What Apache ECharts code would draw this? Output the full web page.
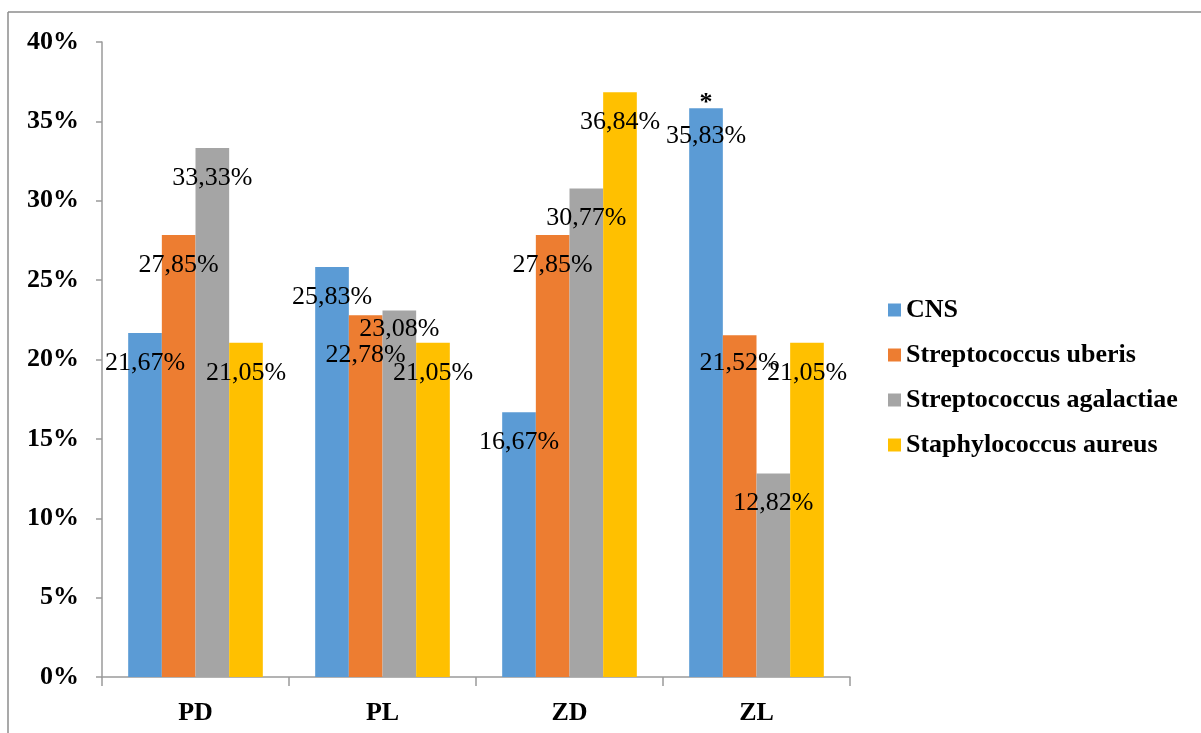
<!DOCTYPE html>
<html>
<head>
<meta charset="utf-8">
<script src="https://cdn.jsdelivr.net/npm/echarts@6/dist/echarts.min.js"></script>
<style>
html,body{margin:0;padding:0;background:#fff;}
#chart{width:1201px;height:733px;}
</style>
</head>
<body>
<div id="chart"></div>
<script>
const categories = ['PD', 'PL', 'ZD', 'ZL'];
const seriesNames = ['CNS', 'Streptococcus uberis', 'Streptococcus agalactiae', 'Staphylococcus aureus'];
const cns = [21.67, 25.83, 16.67, 35.83];
const uberis = [27.85, 22.78, 27.85, 21.52];
const agalactiae = [33.33, 23.08, 30.77, 12.82];
const aureus = [21.05, 21.05, 36.84, 21.05];
const yTicks = [0, 5, 10, 15, 20, 25, 30, 35, 40];
const significantMark = '*';

const colors = ['#5B9BD5', '#ED7D31', '#A5A5A5', '#FFC000'];
const values = [cns, uberis, agalactiae, aureus];
const FONT = '"Liberation Serif", "Times New Roman", serif';

// label vertical nudges (px) to mimic original overlap handling
const labelNudge = { '1-1': 10, '2-1': -11, '0-3': -2, '1-3': -2 };

function fmt(v) { return v.toFixed(2).replace('.', ',') + '%'; }

const series = values.map((arr, si) => ({
  name: seriesNames[si],
  type: 'bar',
  barGap: '0%',
  barCategoryGap: '28%',
  itemStyle: { color: colors[si] },
  data: arr.map((v, ci) => {
    const n = labelNudge[si + '-' + ci] || 0;
    return { value: v, label: { offset: [0, n] } };
  }),
  label: {
    show: true,
    position: 'insideTop',
    distance: 17,
    formatter: p => fmt(p.value),
    fontFamily: FONT,
    fontSize: 26,
    color: '#000'
  },
  markPoint: si === 0 ? {
    symbol: 'circle',
    symbolSize: 2,
    itemStyle: { color: 'rgba(0,0,0,0)' },
    label: {
      show: true,
      position: 'top',
      distance: 0,
      offset: [0, 9],
      formatter: significantMark,
      fontFamily: FONT,
      fontSize: 26,
      fontWeight: 'bold',
      color: '#000'
    },
    data: [{ coord: [categories[3], cns[3]] }]
  } : undefined
}));

const chart = echarts.init(document.getElementById('chart'), null, { renderer: 'canvas' });
chart.setOption({
  animation: false,
  backgroundColor: '#fff',
  grid: { left: 102, right: 351, top: 42, bottom: 56, containLabel: false },
  legend: {
    orient: 'vertical',
    left: 883,
    top: 292,
    itemWidth: 13,
    itemHeight: 13,
    itemGap: 19,
    icon: 'rect',
    data: seriesNames,
    textStyle: { fontFamily: FONT, fontSize: 26, fontWeight: 'bold', color: '#000' }
  },
  xAxis: {
    type: 'category',
    data: categories,
    axisLine: { lineStyle: { color: '#9a9a9a', width: 1.5 } },
    axisTick: { show: true, length: 9, lineStyle: { color: '#9a9a9a', width: 1.5 } },
    axisLabel: { margin: 23, fontFamily: FONT, fontSize: 26, fontWeight: 'bold', color: '#000' }
  },
  yAxis: {
    type: 'value',
    min: yTicks[0],
    max: yTicks[yTicks.length - 1],
    interval: yTicks[1] - yTicks[0],
    splitLine: { show: false },
    axisLine: { show: true, lineStyle: { color: '#9a9a9a', width: 1.5 } },
    axisTick: { show: true, length: 6, lineStyle: { color: '#9a9a9a', width: 1.5 } },
    axisLabel: { margin: 23, formatter: v => v + '%', fontFamily: FONT, fontSize: 26, fontWeight: 'bold', color: '#000' }
  },
  graphic: [
    { type: 'line', shape: { x1: 8, y1: 12, x2: 1201, y2: 12 }, style: { stroke: '#8c8c8c', lineWidth: 1.5 } },
    { type: 'line', shape: { x1: 8, y1: 12, x2: 8, y2: 733 }, style: { stroke: '#8c8c8c', lineWidth: 1.5 } }
  ],
  series: series
});
</script>
</body>
</html>
